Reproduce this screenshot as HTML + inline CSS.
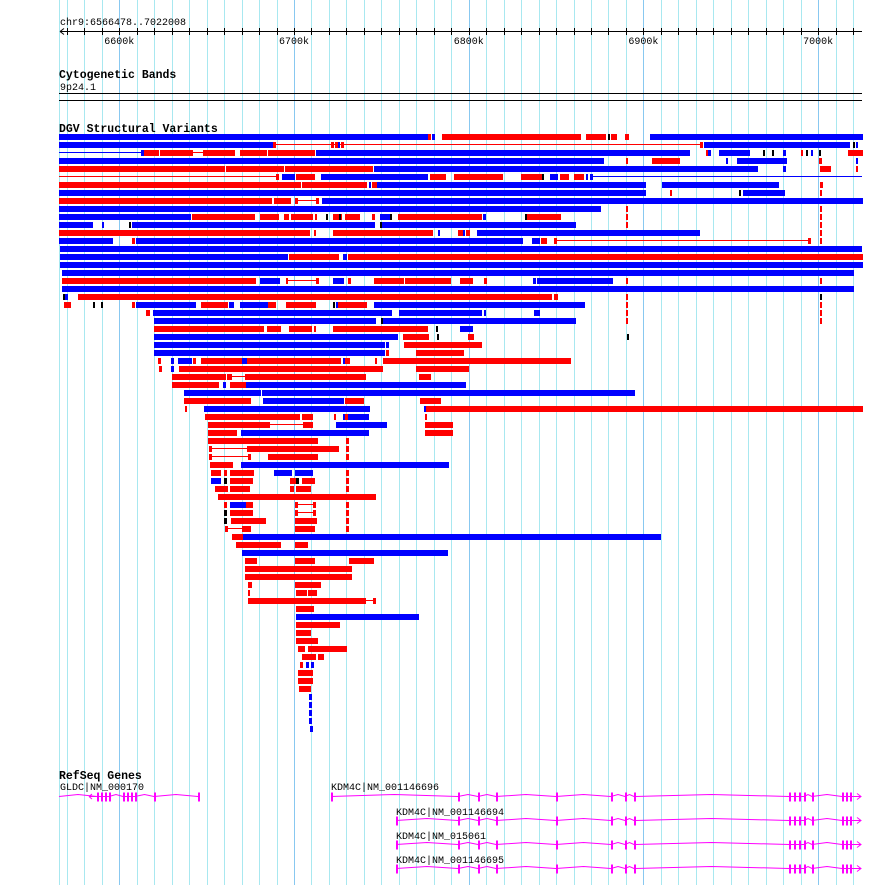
<!DOCTYPE html>
<html><head><meta charset="utf-8"><style>
html,body{margin:0;padding:0;background:#fff;}
svg{display:block;}
text{font-family:"Liberation Mono","DejaVu Sans Mono",monospace;}
</style></head><body>
<svg id="s" width="890" height="885" xmlns="http://www.w3.org/2000/svg"></svg>
<script>
var s=document.getElementById('s'),h='';
h+='<line x1="59.5" y1="0" x2="59.5" y2="885" stroke="#a8e8f0"/>';
for(var k=-3;k<=42;k++){var x=Math.round(119.3+17.47*k)+0.5;var maj=(k%10==0);
h+='<line x1="'+x+'" y1="0" x2="'+x+'" y2="885" stroke="'+(maj?'#88c8f0':'#a8e8f0')+'"/>';}
h+='<text x="60" y="25" font-size="10">chr9:6566478..7022008</text>';
h+='<line x1="60" y1="31.5" x2="862" y2="31.5" stroke="#000"/>';
h+='<path d="M60 31.5 L64 28.5 M60 31.5 L64 34.5" stroke="#000" fill="none"/>';
for(var k=-3;k<=42;k++){var x=Math.round(119.3+17.47*k)+0.5;h+='<line x1="'+x+'" y1="28" x2="'+x+'" y2="35" stroke="#000"/>';}
var labs=['6600k','6700k','6800k','6900k','7000k'];
for(var i=0;i<5;i++){h+='<text x="'+(119.3+174.7*i)+'" y="44" font-size="10" text-anchor="middle">'+labs[i]+'</text>';}
h+='<text x="59" y="78" font-size="11.5" font-weight="bold">Cytogenetic Bands</text>';
h+='<text x="60" y="90" font-size="10">9p24.1</text>';
h+='<line x1="59" y1="93.5" x2="862" y2="93.5" stroke="#000"/><line x1="59" y1="100.5" x2="862" y2="100.5" stroke="#000"/>';
h+='<text x="59" y="132" font-size="11.5" font-weight="bold">DGV Structural Variants</text>';
var rows=[
"b59-427 r428-430 b432-434 r442-580 r586-605 k608-609 r611-616 r625-628 b650-862",
"b59-272 r273-275 lr275-700 r331-333 r335-337 b338-339 r341-343 r700-702 b704-849 k853-854 b856-857",
"lb59-141 b141-143 r144-158 r160-161 r162-192 lr192-203 r203-234 r240-266 r268-280 r281-314 b316-689 r706-708 b708-710 b719-749 k763-764 k772-773 b783-785 r801-802 k806-807 b811-812 k819-820 r848-862",
"b59-603 r626-627 r652-679 b726-727 b737-786 r819-821 b856-857",
"r59-224 r226-283 r285-372 b374-757 b783-785 r820-830 r856-857",
"lr59-276 r276-278 b282-294 r296-314 b321-427 r430-445 r454-490 r491-502 r521-541 k542-543 b550-557 r560-568 r574-583 b586-587 b590-592 lb592-862",
"r59-204 r205-300 r302-366 b369-370 r372-376 b377-645 b662-778 r820-822",
"b59-645 r670-671 k739-740 b743-784 r820-821",
"r59-271 r274-290 r295-297 lr297-317 r316-318 b322-862",
"b59-600 r626-627 r820-821",
"b59-190 r192-254 r260-278 r284-288 r291-312 r315-316 k326-327 r333-341 k339-340 r345-359 r372-374 b380-389 k390-391 r398-481 b483-485 k525-526 r527-560 r626-627 r820-821",
"b59-92 b102-103 k129-130 b132-374 k380-381 b382-575 r626-627 r820-821",
"r59-309 r314-315 r333-432 b438-439 r458-462 b463-464 r466-469 b477-699 r820-821",
"b59-112 r132-134 b136-522 b532-539 r541-546 r554-556 lr556-808 r808-810 r820-821",
"b60-861",
"b60-287 r289-338 b343-346 r348-862",
"b60-862",
"b62-853",
"r62-255 b260-279 r286-287 lr287-316 r316-318 b333-343 r348-350 r374-403 r405-450 r460-472 r484-486 b533-535 b537-612 r626-627 r820-821",
"b62-853",
"k63-64 b65-67 r78-551 r554-557 r626-627 k820-821",
"r64-70 k93-94 k101-102 r132-134 b136-195 r201-227 b229-233 b240-267 r268-275 r286-313 r314-315 k333-334 b336-337 r338-366 b374-584 r626-627 r820-821",
"r146-149 b153-391 b399-481 b484-485 b534-539 r626-627 r820-821",
"b154-375 k381-382 b383-575 r626-627 r820-821",
"r154-263 r267-269 r270-280 r289-311 r314-315 r333-427 k436-437 b460-472",
"b154-397 r403-428 k437-438 r468-473 k627-628",
"b154-384 b386-388 r404-481",
"b154-384 r386-388 r416-463",
"r158-160 b171-173 b178-191 r193-195 r201-241 b242-244 b245-246 r247-340 b343-344 r345-349 r375-376 r383-570",
"r159-161 b171-173 r179-382 r416-468",
"r172-225 r227-231 lr231-245 r245-365 r419-430",
"r172-218 b223-225 r230-245 b246-465",
"b184-260 b262-634",
"r184-250 b263-343 r345-363 r420-440",
"r185-186 b204-369 b424-426 r426-862",
"r205-299 r302-312 r334-335 b343-346 r345-348 b348-368 r425-426",
"r208-269 lr269-303 r303-305 r305-312 b336-386 r425-452",
"r208-236 b241-368 r425-452",
"r208-317 r346-348",
"r209-211 lr211-247 r247-288 r289-338 r346-348",
"r209-211 lr211-248 r248-250 r268-317 r346-348",
"r210-232 b241-448",
"r211-220 r224-226 r230-253 b274-291 b295-312 r346-348",
"b211-220 k224-226 r230-245 r246-252 r290-298 k296-298 r302-309 r310-314 r346-348",
"r215-227 r230-245 r245-249 r290-293 r296-310 r346-348",
"r218-375",
"r224-226 b230-245 r246-252 r295-297 lr297-313 r313-315 r346-348",
"k224-226 r230-245 r246-252 r295-297 lr297-313 r313-315 r346-348",
"k224-226 r231-265 r295-316 r346-348",
"r225-227 lr227-243 r242-244 r245-250 r295-314 r346-348",
"r232-242 b243-660",
"r236-280 r295-307",
"b242-447",
"r245-256 r295-314 r349-373",
"r245-351",
"r245-351",
"r248-251 r295-320",
"r248-249 r296-306 r308-316",
"r248-365 lr365-373 r373-375",
"r296-313",
"b296-418",
"r296-339",
"r296-310",
"r296-317",
"r298-304 r308-346",
"r302-304 r305-315 r318-323",
"r300-302 b306-308 b311-313",
"r298-312","r298-312","r299-310",
"b309-311","b309-311","b309-311","b309-311","b310-312"];
var col={b:'#0000ff',r:'#ff0000',k:'#000000'};
for(var i=0;i<rows.length;i++){var y=134+8*i;var segs=rows[i].split(' ');
for(var j=0;j<segs.length;j++){var g=segs[j];var line=false;if(g[0]=='l'){line=true;g=g.slice(1);}
var c=col[g[0]];var p=g.slice(1).split('-');var a=+p[0],b=+p[1];
if(line)h+='<rect x="'+a+'" y="'+(y+2)+'" width="'+(b-a)+'" height="1" fill="'+c+'"/>';
else h+='<rect x="'+a+'" y="'+y+'" width="'+Math.max(1,b-a+1)+'" height="6" fill="'+c+'"/>';}}
h+='<text x="59" y="779" font-size="11.5" font-weight="bold">RefSeq Genes</text>';
var M='#ff00ff';
function gene(x1,x2,y,ex){
 var d='M'+x1+' '+y;var pts=ex.slice();pts.unshift(x1);pts.push(x2);
 for(var i=0;i<pts.length-1;i++){var a=pts[i],b=pts[i+1],m=(a+b)/2;if(b-a>6)d+=' L'+m+' '+(y-2)+' L'+b+' '+y;else d+=' L'+b+' '+y;}
 h+='<path d="'+d+'" stroke="'+M+'" fill="none"/>';
 for(var i=0;i<ex.length;i++)h+='<rect x="'+ex[i]+'" y="'+(y-4)+'" width="2" height="9" fill="'+M+'"/>';
}
gene(59,199,796.5,[97,101,105,109,123,127,131,135,154,198]);
h+='<path d="M89 796.5 L96 796.5 M89 796.5 L92 794 M89 796.5 L92 799" stroke="'+M+'" fill="none"/>';
h+='<text x="60" y="790" font-size="10">GLDC|NM_000170</text>';
var kx=[458,478,496,556,611,625,634,789,794,799,804,812,842,846,850];
var ks=[[331,796.5,'KDM4C|NM_001146696',790],[396,820.5,'KDM4C|NM_001146694',815],[396,844.5,'KDM4C|NM_015061',839],[396,868.5,'KDM4C|NM_001146695',863]];
for(var i=0;i<4;i++){var r=ks[i];h+='<text x="'+r[0]+'" y="'+r[3]+'" font-size="10">'+r[2]+'</text>';
 h+='<rect x="'+r[0]+'" y="'+(r[1]-4)+'" width="2" height="9" fill="'+M+'"/>';
 gene(r[0],856,r[1],kx);
 h+='<path d="M852 '+r[1]+' L861 '+r[1]+' M857 '+(r[1]-3)+' L861 '+r[1]+' L857 '+(r[1]+3)+'" stroke="'+M+'" fill="none"/>';}
s.innerHTML=h;
</script>
</body></html>
